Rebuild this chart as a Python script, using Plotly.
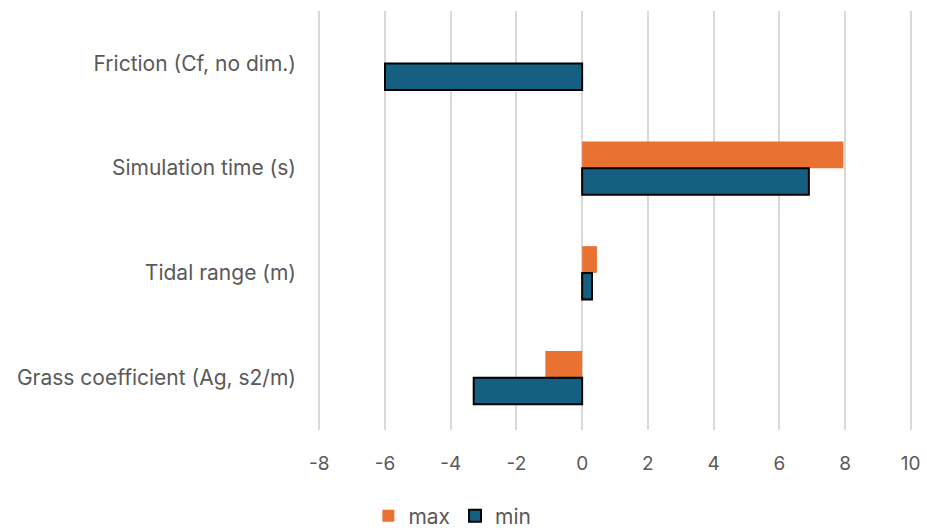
import plotly.graph_objects as go

# Sensitivity of the response to each input parameter
categories = [
    "Friction (Cf, no dim.)",
    "Simulation time (s)",
    "Tidal range (m)",
    "Grass coefficient (Ag, s2/m)",
]
max_values = [0.0, 7.95, 0.45, -1.12]
min_values = [-6.0, 6.9, 0.3, -3.3]
x_ticks = [-8, -6, -4, -2, 0, 2, 4, 6, 8, 10]

ORANGE = "#E97132"
BLUE = "#156082"
TEXT = "#595959"
GRID = "#D9D9D9"
FONT = "Inter, Open Sans, sans-serif"

fig = go.Figure()
fig.add_trace(go.Bar(
    y=categories, x=max_values, orientation="h", name="max",
    marker=dict(color=ORANGE, line=dict(width=0)),
))
fig.add_trace(go.Bar(
    y=categories, x=min_values, orientation="h", name="min",
    marker=dict(color=BLUE, line=dict(color="#000000", width=2)),
))

fig.update_layout(
    width=927, height=530,
    margin=dict(l=316, r=13, t=11, b=100, autoexpand=False),
    paper_bgcolor="white", plot_bgcolor="white",
    barmode="group", bargap=0.49, bargroupgap=0,
    font=dict(family=FONT, size=20, color=TEXT),
    showlegend=True,
    legend=dict(
        orientation="h", xref="container", x=0.488, xanchor="center",
        yref="container", y=0.026, yanchor="middle",
        font=dict(family=FONT, size=21, color=TEXT),
        itemwidth=30, traceorder="normal",
    ),
    xaxis=dict(
        range=[-8.1, 10.1], tickvals=x_ticks, ticktext=[str(t) for t in x_ticks],
        showgrid=True, gridcolor=GRID, gridwidth=2,
        zeroline=False, showline=False, ticks="",
        ticklabelstandoff=20, automargin=False,
        tickfont=dict(family=FONT, size=19, color=TEXT),
    ),
    yaxis=dict(
        categoryorder="array", categoryarray=categories,
        autorange="reversed", showgrid=False, zeroline=False,
        showline=False, ticks="", ticklabelstandoff=19, automargin=False,
        tickfont=dict(family=FONT, size=21, color=TEXT),
    ),
)

fig.write_html("out.html")
